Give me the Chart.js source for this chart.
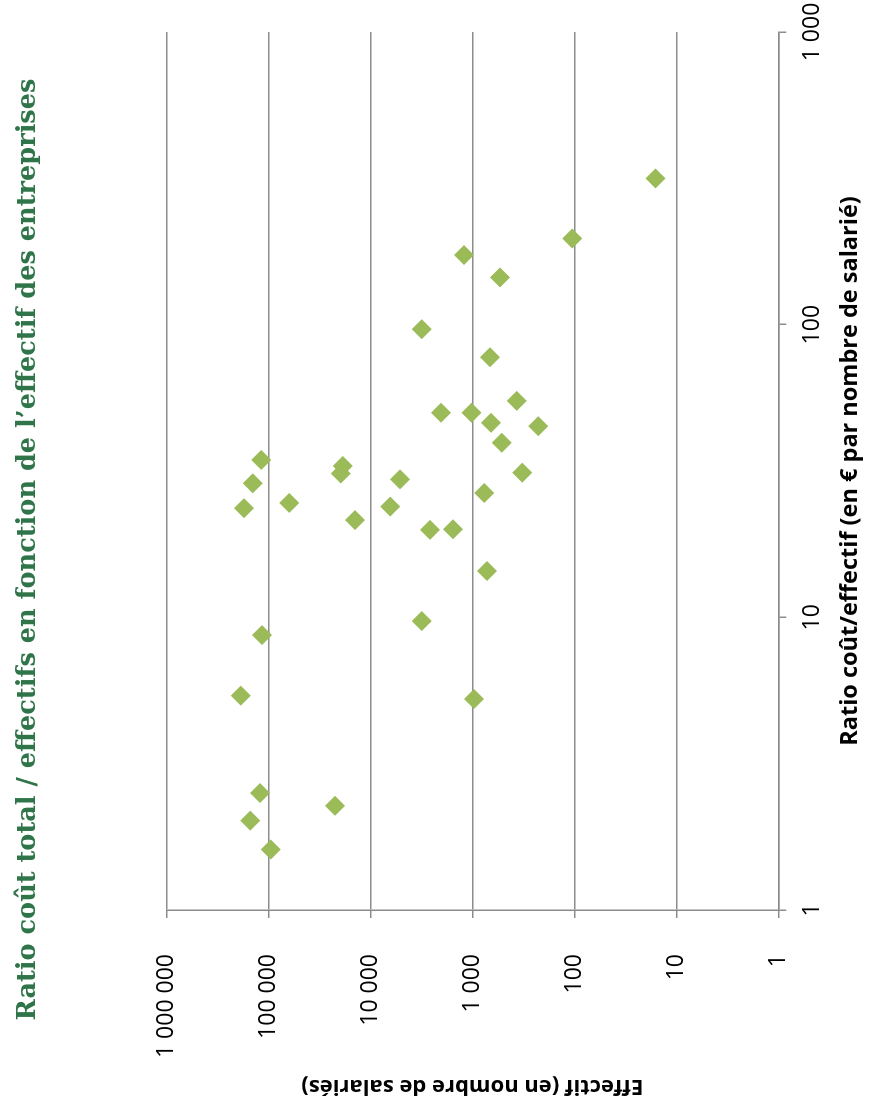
<!DOCTYPE html>
<html lang="fr">
<head>
<meta charset="utf-8">
<title>Ratio coût total / effectifs</title>
<script src="https://cdn.jsdelivr.net/npm/chart.js@4/dist/chart.umd.min.js"></script>
<style>
    html, body { margin: 0; padding: 0; background: #fff; overflow: hidden; }
    /* the chart is shown turned a quarter turn to the left */
    #wrap {
        position: absolute; left: 0; top: 0;
        width: 1116px; height: 872px;
        transform-origin: 0 0;
        transform: translate(0, 1116px) rotate(-90deg);
    }
</style>
</head>
<body>
<div id="wrap"><canvas id="ratioChart" width="1116" height="872"></canvas></div>
<script>
const titleText = 'Ratio coût total / effectifs en fonction de l’effectif des entreprises';
const xTitle = 'Ratio coût/effectif (en € par nombre de salarié)';
const yTitle = 'Effectif (en nombre de salariés)';

// one entry per company
const effectif = [16, 105, 1210, 536, 3140, 672, 368, 2030, 1020, 657, 226, 516,
    118000, 18700, 19600, 324, 143000, 5130, 764, 62500, 174000, 6380, 14200,
    2610, 1550, 719, 116000, 3140, 187000, 964, 121000, 22300, 151000, 95100];
const ratio = [316, 197, 173, 145, 96.5, 77.4, 54.9, 50, 50, 46.2, 45, 39.5,
    34.5, 32.9, 31, 31.2, 28.7, 29.6, 26.6, 24.6, 23.6, 23.9, 21.5,
    19.9, 20, 14.4, 8.7, 9.71, 5.4, 5.26, 2.51, 2.27, 2.02, 1.61];

const xTickValues = [1, 10, 100, 1000];
const xTickLabels = ['1', '10', '100', '1 000'];
const yTickValues = [1, 10, 100, 1000, 10000, 100000, 1000000];
const yTickLabels = ['1', '10', '100', '1 000', '10 000', '100 000', '1 000 000'];

const gridGrey = '#8c8c8c';
Chart.defaults.font.family = "'Open Sans', 'Liberation Sans', sans-serif";
Chart.defaults.color = '#000';

new Chart(document.getElementById('ratioChart'), {
    type: 'scatter',
    data: {
        datasets: [{
            data: effectif.map((e, i) => ({ x: ratio[i], y: e })),
            pointStyle: 'rectRot',
            pointRadius: 10,
            pointHoverRadius: 10,
            pointBorderWidth: 0,
            backgroundColor: '#9BBB59',
            borderColor: '#9BBB59'
        }]
    },
    options: {
        responsive: false,
        animation: false,
        layout: { padding: { left: 17, right: 0, top: 0, bottom: 0 } },
        plugins: {
            legend: { display: false },
            tooltip: { enabled: false },
            title: {
                display: true,
                text: titleText,
                color: '#2F7549',
                font: { family: "'DejaVu Serif', 'Liberation Serif', serif", size: 25.6, weight: 'bold' },
                padding: { top: 12.6, bottom: 123.2 }
            }
        },
        scales: {
            x: {
                type: 'logarithmic',
                position: 'bottom',
                min: 1,
                max: 1000,
                afterBuildTicks: s => { s.ticks = xTickValues.map(v => ({ value: v })); },
                afterFit: s => { s.height = 93.7; s.paddingRight = 32; s.paddingLeft = 0; },
                ticks: {
                    autoSkip: false,
                    maxRotation: 0,
                    padding: 12,
                    font: { size: 23 },
                    callback: (v, i) => xTickLabels[i]
                },
                grid: { drawOnChartArea: false, drawTicks: true, tickLength: 8, color: gridGrey, lineWidth: 1.5 },
                border: { display: true, color: gridGrey, width: 1.5 },
                title: {
                    display: true,
                    text: xTitle,
                    font: { size: 23.5, weight: 'bold' },
                    padding: { top: 0, bottom: 8 }
                }
            },
            y: {
                type: 'logarithmic',
                position: 'left',
                min: 1,
                max: 1000000,
                afterBuildTicks: s => { s.ticks = yTickValues.map(v => ({ value: v })); },
                afterFit: s => { s.width = 189; s.paddingTop = 0; s.paddingBottom = 0; },
                ticks: {
                    autoSkip: false,
                    padding: 36,
                    font: { size: 23 },
                    callback: (v, i) => yTickLabels[i]
                },
                grid: { drawTicks: true, tickLength: 8, color: gridGrey, lineWidth: 1.5 },
                border: { display: true, color: gridGrey, width: 1.5 },
                title: {
                    display: true,
                    text: yTitle,
                    font: { size: 22, weight: 'bold' },
                    padding: { top: 0, bottom: 0 }
                }
            }
        }
    }
});
</script>
</body>
</html>
